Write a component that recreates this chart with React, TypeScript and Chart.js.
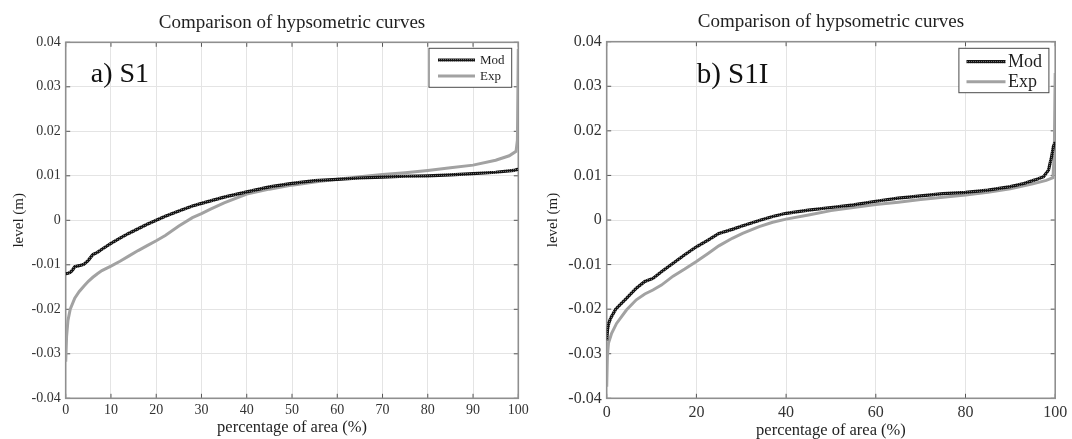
import React, { useEffect, useRef } from 'react';
import { Chart, registerables } from 'chart.js';

Chart.register(...registerables);

// ---------- data ----------
const titleText = 'Comparison of hypsometric curves';
const xTitleText = 'percentage of area (%)';
const yTitleText = 'level (m)';
const seriesNames = ['Mod', 'Exp'];
const panelTags = ['a) S1', 'b) S1I'];

const yTicks = [-0.04, -0.03, -0.02, -0.01, 0, 0.01, 0.02, 0.03, 0.04];
const yTickLabels = ['-0.04', '-0.03', '-0.02', '-0.01', '0', '0.01', '0.02', '0.03', '0.04'];
const xTicksA = [0, 10, 20, 30, 40, 50, 60, 70, 80, 90, 100];
const xTickLabelsA = ['0', '10', '20', '30', '40', '50', '60', '70', '80', '90', '100'];
const xTicksB = [0, 20, 40, 60, 80, 100];
const xTickLabelsB = ['0', '20', '40', '60', '80', '100'];

// S1 - model
const s1ModPct = [0, 0.5, 1, 1.5, 2, 3, 4, 5, 6, 7, 8, 10, 12, 14, 16, 18, 20, 22, 25, 28, 30, 35, 40, 45, 50, 55, 60, 65, 70, 75, 80, 85, 90, 95, 99, 100];
const s1ModLevel = [-0.0120, -0.0119, -0.0117, -0.0112, -0.0104, -0.0102, -0.0099, -0.0090, -0.0077, -0.0072, -0.0065, -0.0052, -0.0040, -0.0029, -0.0019, -0.0009, 0.0000, 0.0009, 0.0021, 0.0032, 0.0038, 0.0052, 0.0064, 0.0075, 0.0083, 0.0089, 0.0092, 0.0095, 0.0097, 0.0099, 0.0100, 0.0102, 0.0105, 0.0108, 0.0112, 0.0115];
// S1 - experiment
const s1ExpPct = [0, 0.2, 0.5, 1, 2, 3, 4, 5, 6, 7, 8, 10, 12, 14, 16, 18, 20, 22, 25, 28, 30, 32, 35, 40, 45, 50, 55, 60, 65, 70, 75, 80, 85, 90, 95, 98, 99.5, 99.8, 100];
const s1ExpLevel = [-0.0318, -0.0260, -0.0225, -0.0200, -0.0175, -0.0160, -0.0148, -0.0137, -0.0128, -0.0120, -0.0113, -0.0103, -0.0092, -0.0080, -0.0068, -0.0057, -0.0046, -0.0034, -0.0013, 0.0006, 0.0015, 0.0025, 0.0039, 0.0059, 0.0070, 0.0079, 0.0086, 0.0092, 0.0098, 0.0103, 0.0107, 0.0112, 0.0118, 0.0124, 0.0135, 0.0145, 0.0155, 0.0180, 0.0385];
// S1I - model
const s1iModPct = [0, 0.2, 0.5, 1, 2, 3, 4.4, 6.6, 8.5, 10.3, 12.2, 14.8, 17.4, 20, 22.6, 25, 28, 30, 34, 37, 40, 45, 50, 55, 60, 65, 70, 75, 80, 85, 90, 93, 95.5, 97.4, 98.5, 99.2, 99.6, 100];
const s1iModLevel = [-0.0270, -0.0245, -0.0230, -0.0218, -0.0200, -0.0190, -0.0176, -0.0153, -0.0138, -0.0131, -0.0116, -0.0097, -0.0078, -0.0060, -0.0045, -0.0030, -0.0021, -0.0014, -0.0001, 0.0008, 0.0015, 0.0022, 0.0028, 0.0034, 0.0042, 0.0049, 0.0054, 0.0059, 0.0062, 0.0067, 0.0075, 0.0082, 0.0090, 0.0097, 0.0112, 0.0142, 0.0165, 0.0175];
// S1I - experiment
const s1iExpPct = [0, 0.15, 0.4, 1.1, 2.2, 4.4, 6.6, 8.5, 10.3, 12.2, 14.8, 17.4, 20, 22.6, 25, 28, 30.3, 34, 37, 40, 45, 50, 55, 60, 65, 70, 75, 80, 85, 90, 95, 98, 99.5, 99.8, 100];
const s1iExpLevel = [-0.0374, -0.0306, -0.0276, -0.0254, -0.0232, -0.0202, -0.0179, -0.0166, -0.0157, -0.0146, -0.0126, -0.0110, -0.0093, -0.0075, -0.0058, -0.0041, -0.0030, -0.0015, -0.0005, 0.0002, 0.0011, 0.0021, 0.0028, 0.0035, 0.0040, 0.0046, 0.0051, 0.0056, 0.0062, 0.0070, 0.0081, 0.0089, 0.0095, 0.0150, 0.0330];

// ---------- styles ----------
const SERIF = '"Liberation Serif", "Times New Roman", serif';
const TEXT = '#1f1f1f';
const TICK_TEXT = '#333333';
const GRID = '#e4e4e4';
const FRAME = '#8f8f8f';
const EXP_COLOR = '#a2a2a2';

type Panel = {
  tag: string;
  modX: number[]; modY: number[];
  expX: number[]; expY: number[];
  xTicks: number[]; xTickLabels: string[];
  yAxisWidth: number; padRight: number; xAxisHeight: number;
  titlePadTop: number; titlePadBottom: number;
  tickSize: number; xTickPad: number; yTickPad: number;
  xTitlePadBottom: number; yTitlePadTop: number;
  legend: { w: number; h: number; gapRight: number; gapTop: number; lineX: number; lineLen: number; rows: number[]; textX: number; fs: number };
  tagPos: { dx: number; baseline: number; fs: number };
};

const panels: Panel[] = [
  {
    tag: panelTags[0],
    modX: s1ModPct, modY: s1ModLevel, expX: s1ExpPct, expY: s1ExpLevel,
    xTicks: xTicksA, xTickLabels: xTickLabelsA,
    yAxisWidth: 65.7, padRight: 17.7, xAxisHeight: 40.7,
    titlePadTop: 11.7, titlePadBottom: 7.8,
    tickSize: 14, xTickPad: 4, yTickPad: 5,
    xTitlePadBottom: 1.6, yTitlePadTop: 10,
    legend: { w: 82.7, h: 39, gapRight: 6.6, gapTop: 6, lineX: 9, lineLen: 37, rows: [11.7, 27.7], textX: 51, fs: 13 },
    tagPos: { dx: 25, baseline: 82, fs: 28 },
  },
  {
    tag: panelTags[1],
    modX: s1iModPct, modY: s1iModLevel, expX: s1iExpPct, expY: s1iExpLevel,
    xTicks: xTicksB, xTickLabels: xTickLabelsB,
    yAxisWidth: 70.7, padRight: 14, xAxisHeight: 40.7,
    titlePadTop: 11.1, titlePadBottom: 7.8,
    tickSize: 16, xTickPad: 4.8, yTickPad: 5,
    xTitlePadBottom: -1.3, yTitlePadTop: 8,
    legend: { w: 90, h: 44.4, gapRight: 6.3, gapTop: 6.6, lineX: 7.6, lineLen: 39, rows: [13.4, 33.4], textX: 49, fs: 18 },
    tagPos: { dx: 90, baseline: 82.5, fs: 29 },
  },
];

function makeModPattern(): CanvasPattern | string {
  const c = document.createElement('canvas');
  c.width = 2; c.height = 2;
  const g = c.getContext('2d');
  if (!g) return '#1a1a1a';
  g.fillStyle = '#141414';
  g.fillRect(0, 0, 2, 2);
  g.fillStyle = '#6a6a6a';
  g.fillRect(1, 1, 1, 1);
  const pat = g.createPattern(c, 'repeat');
  return pat || '#1a1a1a';
}

function decorPlugin(p: Panel) {
  return {
    id: 'decor',
    beforeDatasetsDraw(chart: any) {
      const { ctx, chartArea: a } = chart;
      const xs = chart.scales.x;
      const ys = chart.scales.y;
      ctx.save();
      ctx.strokeStyle = '#555555';
      ctx.lineWidth = 1;
      ctx.beginPath();
      for (const t of xs.ticks) {
        const px = xs.getPixelForValue(t.value);
        ctx.moveTo(px, a.bottom); ctx.lineTo(px, a.bottom - 4.5);
        ctx.moveTo(px, a.top); ctx.lineTo(px, a.top + 4.5);
      }
      for (const t of ys.ticks) {
        const py = ys.getPixelForValue(t.value);
        ctx.moveTo(a.left, py); ctx.lineTo(a.left + 4.5, py);
        ctx.moveTo(a.right, py); ctx.lineTo(a.right - 4.5, py);
      }
      ctx.stroke();
      ctx.strokeStyle = FRAME;
      ctx.lineWidth = 1.6;
      ctx.strokeRect(a.left, a.top, a.right - a.left, a.bottom - a.top);
      ctx.restore();
    },
    afterDatasetsDraw(chart: any) {
      const { ctx, chartArea: a } = chart;
      const L = p.legend;
      ctx.save();
      const bx = a.right - L.gapRight - L.w;
      const by = a.top + L.gapTop;
      ctx.fillStyle = '#ffffff';
      ctx.fillRect(bx, by, L.w, L.h);
      ctx.strokeStyle = '#4a4a4a';
      ctx.lineWidth = 1;
      ctx.strokeRect(bx, by, L.w, L.h);
      chart.data.datasets.forEach((ds: any, i: number) => {
        const yy = by + L.rows[i];
        ctx.strokeStyle = ds.borderColor;
        ctx.lineWidth = ds.borderWidth;
        ctx.beginPath();
        ctx.moveTo(bx + L.lineX, yy);
        ctx.lineTo(bx + L.lineX + L.lineLen, yy);
        ctx.stroke();
        ctx.fillStyle = TEXT;
        ctx.font = `${L.fs}px ${SERIF}`;
        ctx.textAlign = 'left';
        ctx.textBaseline = 'middle';
        ctx.fillText(ds.label, bx + L.textX, yy + 0.5);
      });
      ctx.fillStyle = '#111111';
      ctx.font = `${p.tagPos.fs}px ${SERIF}`;
      ctx.textAlign = 'left';
      ctx.textBaseline = 'alphabetic';
      ctx.fillText(p.tag, a.left + p.tagPos.dx, p.tagPos.baseline);
      ctx.restore();
    },
  };
}

function ChartPanel({ p }: { p: Panel }) {
  const ref = useRef<HTMLCanvasElement>(null);
  useEffect(() => {
    const canvas = ref.current;
    if (!canvas) return;
    const modColor = makeModPattern();
    const chart = new Chart(canvas, {
      type: 'line',
      data: {
        datasets: [
          {
            label: seriesNames[0],
            data: p.modX.map((x, i) => ({ x, y: p.modY[i] })),
            borderColor: modColor as any,
            borderWidth: 3.2,
            pointRadius: 0,
            tension: 0,
            order: 0,
          },
          {
            label: seriesNames[1],
            data: p.expX.map((x, i) => ({ x, y: p.expY[i] })),
            borderColor: EXP_COLOR,
            borderWidth: 3,
            pointRadius: 0,
            tension: 0,
            order: 1,
          },
        ],
      },
      options: {
        responsive: false,
        animation: false,
        devicePixelRatio: 1,
        layout: { padding: { left: 0, right: p.padRight, top: 0, bottom: 0 } },
        plugins: {
          legend: { display: false },
          tooltip: { enabled: false },
          title: {
            display: true,
            text: titleText,
            fullSize: false,
            color: TEXT,
            font: { family: SERIF, size: 19, weight: 'normal' },
            padding: { top: p.titlePadTop, bottom: p.titlePadBottom },
          },
        },
        scales: {
          x: {
            type: 'linear',
            min: 0,
            max: 100,
            afterBuildTicks: (s: any) => { s.ticks = p.xTicks.map((v) => ({ value: v })); },
            afterFit: (s: any) => { s.height = p.xAxisHeight; },
            ticks: {
              autoSkip: false,
              maxRotation: 0,
              padding: p.xTickPad,
              color: TICK_TEXT,
              font: { family: SERIF, size: p.tickSize },
              callback: (_v: any, i: number) => p.xTickLabels[i],
            },
            grid: { color: GRID, lineWidth: 1, drawTicks: false },
            border: { display: false },
            title: {
              display: true,
              text: xTitleText,
              color: TEXT,
              font: { family: SERIF, size: 16.5 },
              padding: { top: 0, bottom: p.xTitlePadBottom },
            },
          },
          y: {
            type: 'linear',
            min: -0.04,
            max: 0.04,
            afterBuildTicks: (s: any) => { s.ticks = yTicks.map((v) => ({ value: v })); },
            afterFit: (s: any) => { s.width = p.yAxisWidth; },
            ticks: {
              autoSkip: false,
              padding: p.yTickPad,
              color: TICK_TEXT,
              font: { family: SERIF, size: p.tickSize },
              callback: (_v: any, i: number) => yTickLabels[i],
            },
            grid: { color: GRID, lineWidth: 1, drawTicks: false },
            border: { display: false },
            title: {
              display: true,
              text: yTitleText,
              color: TEXT,
              font: { family: SERIF, size: 15 },
              padding: { top: p.yTitlePadTop, bottom: 0 },
            },
          },
        },
      } as any,
      plugins: [decorPlugin(p)],
    });
    return () => chart.destroy();
  }, [p]);
  return <canvas ref={ref} width={536} height={439} style={{ display: 'block', width: 536, height: 439 }} />;
}

export default function App() {
  return (
    <div style={{ position: 'absolute', left: 0, top: 0, width: 1072, height: 439, display: 'flex', background: '#ffffff' }}>
      {panels.map((p, i) => (
        <ChartPanel key={i} p={p} />
      ))}
    </div>
  );
}
